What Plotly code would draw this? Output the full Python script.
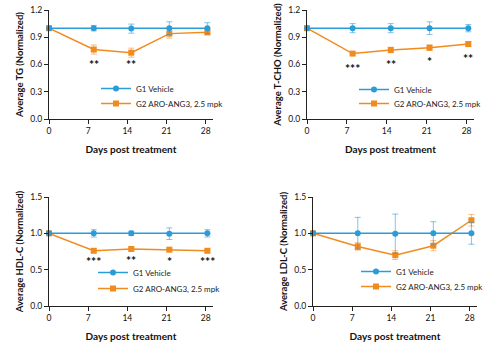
import plotly.graph_objects as go

days = [0, 8, 14.7, 21.5, 28.3]
xticks = [0, 7, 14, 21, 28]

# TG
tg_g1 = [1.0, 1.0, 0.995, 1.0, 1.0]
tg_g1_err = [0.0, 0.03, 0.05, 0.07, 0.06]
tg_g2 = [1.0, 0.765, 0.73, 0.94, 0.955]
tg_g2_err = [0.0, 0.05, 0.05, 0.05, 0.03]
tg_sig = ["", "**", "**", "", ""]
tg_sig_y = [None, 0.63, 0.63, None, None]

# T-CHO
tc_g1 = [1.0, 1.0, 1.0, 1.0, 1.0]
tc_g1_err = [0.0, 0.05, 0.05, 0.07, 0.04]
tc_g2 = [1.0, 0.72, 0.76, 0.785, 0.825]
tc_g2_err = [0.0, 0.015, 0.03, 0.03, 0.025]
tc_sig = ["", "***", "**", "*", "**"]
tc_sig_y = [None, 0.59, 0.63, 0.668, 0.694]

# HDL-C
hdl_g1 = [1.0, 1.0, 1.0, 0.995, 1.0]
hdl_g1_err = [0.0, 0.05, 0.03, 0.08, 0.05]
hdl_g2 = [1.0, 0.76, 0.785, 0.775, 0.76]
hdl_g2_err = [0.0, 0.02, 0.03, 0.02, 0.02]
hdl_sig = ["", "***", "**", "*", "***"]
hdl_sig_y = [None, 0.66, 0.67, 0.66, 0.66]

# LDL-C
ldl_g1 = [1.0, 1.0, 0.995, 1.0, 1.0]
ldl_g1_err = [0.0, 0.22, 0.27, 0.16, 0.15]
ldl_g2 = [1.0, 0.82, 0.70, 0.83, 1.18]
ldl_g2_err = [0.0, 0.05, 0.06, 0.07, 0.08]

g1_name = "G1 Vehicle"
g2_name = "G2 ARO-ANG3, 2.5 mpk"
x_title = "Days post treatment"

BLUE = "#2B9CD8"
ORANGE = "#F28B1E"
FONT = "Lato"

W, H = 500, 348

panels = [
    dict(g1=tg_g1, g1e=tg_g1_err, g2=tg_g2, g2e=tg_g2_err, sig=tg_sig, sigy=tg_sig_y,
         ytitle="Average TG (Normalized)", yr=[0, 1.2], ytv=[0, 0.3, 0.6, 0.9, 1.2],
         px=(49, 213), py=(10, 119), leg=(96, 89, 104)),
    dict(g1=tc_g1, g1e=tc_g1_err, g2=tc_g2, g2e=tc_g2_err, sig=tc_sig, sigy=tc_sig_y,
         ytitle="Average T-CHO (Normalized)", yr=[0, 1.2], ytv=[0, 0.3, 0.6, 0.9, 1.2],
         px=(307, 474), py=(10, 119), leg=(354, 90, 104)),
    dict(g1=hdl_g1, g1e=hdl_g1_err, g2=hdl_g2, g2e=hdl_g2_err, sig=hdl_sig, sigy=hdl_sig_y,
         ytitle="Average HDL-C (Normalized)", yr=[0, 1.5], ytv=[0, 0.5, 1.0, 1.5],
         px=(49, 213), py=(197, 306), leg=(93, 273, 289)),
    dict(g1=ldl_g1, g1e=ldl_g1_err, g2=ldl_g2, g2e=ldl_g2_err, sig=None, sigy=None,
         ytitle="Average LDL-C (Normalized)", yr=[0, 1.5], ytv=[0, 0.5, 1.0, 1.5],
         px=(313, 477), py=(197, 306), leg=(356, 272, 287)),
]

fig = go.Figure()
annotations = []
layout = {}
for i, p in enumerate(panels, start=1):
    xa = "x" if i == 1 else f"x{i}"
    ya = "y" if i == 1 else f"y{i}"
    lg1 = "legend" if i == 1 else f"legend{2 * i - 1}"
    lg2 = f"legend{2 * i}"
    fig.add_trace(go.Scatter(
        x=days, y=p["g2"], name=g2_name, mode="lines+markers", xaxis=xa, yaxis=ya,
        legend=lg2, cliponaxis=False,
        line=dict(color=ORANGE, width=1.5),
        marker=dict(symbol="square", size=6, color=ORANGE),
        error_y=dict(type="data", array=p["g2e"], color="rgba(242,139,30,0.55)",
                     thickness=1, width=3)))
    fig.add_trace(go.Scatter(
        x=days, y=p["g1"], name=g1_name, mode="lines+markers", xaxis=xa, yaxis=ya,
        legend=lg1, cliponaxis=False,
        line=dict(color=BLUE, width=1.5),
        marker=dict(symbol="circle", size=6, color=BLUE),
        error_y=dict(type="data", array=p["g1e"], color="rgba(43,156,216,0.6)",
                     thickness=1, width=3)))
    if p["sig"]:
        for d, s, sy in zip(days, p["sig"], p["sigy"]):
            if s:
                annotations.append(dict(x=d, y=sy, xref=xa, yref=ya, text=f"<b>{s}</b>",
                                        showarrow=False, yanchor="middle", yshift=-3,
                                        font=dict(family=FONT, size=12, color="#111")))
    axkey = "xaxis" if i == 1 else f"xaxis{i}"
    aykey = "yaxis" if i == 1 else f"yaxis{i}"
    layout[axkey] = dict(
        domain=[p["px"][0] / W, p["px"][1] / W], anchor=ya, range=[0, 29.3],
        tickvals=xticks, ticks="outside", ticklen=4, tickwidth=1, tickcolor="#222",
        showline=True, linecolor="#222", linewidth=1.2, showgrid=False, zeroline=False,
        tickfont=dict(family=FONT, size=8.5, color="#111"),
        title=dict(text=f"<b>{x_title}</b>", standoff=10,
                   font=dict(family=FONT, size=10, color="#111")),
        automargin=False)
    layout[aykey] = dict(
        domain=[1 - p["py"][1] / H, 1 - p["py"][0] / H], anchor=xa, range=p["yr"],
        tickvals=p["ytv"], tickformat=".1f", ticks="outside", ticklen=4, tickwidth=1,
        tickcolor="#222", showline=True, linecolor="#222", linewidth=1.2,
        showgrid=False, zeroline=False,
        tickfont=dict(family=FONT, size=8.5, color="#111"),
        title=dict(text=f"<b>{p['ytitle']}</b>", standoff=5,
                   font=dict(family=FONT, size=9.5, color="#111")),
        automargin=False)
    lx, r1, r2 = p["leg"]
    for lg, rc in ((lg1, r1), (lg2, r2)):
        layout[lg] = dict(x=lx / W, y=1 - (rc - 15) / H, xanchor="left",
                          yanchor="top", bgcolor="rgba(0,0,0,0)", itemwidth=30,
                          font=dict(family=FONT, size=8, color="#222"))

fig.update_layout(width=W, height=H, margin=dict(l=0, r=0, t=0, b=0),
                  plot_bgcolor="white", paper_bgcolor="white",
                  annotations=annotations, showlegend=True, **layout)
fig.write_html("out.html")
